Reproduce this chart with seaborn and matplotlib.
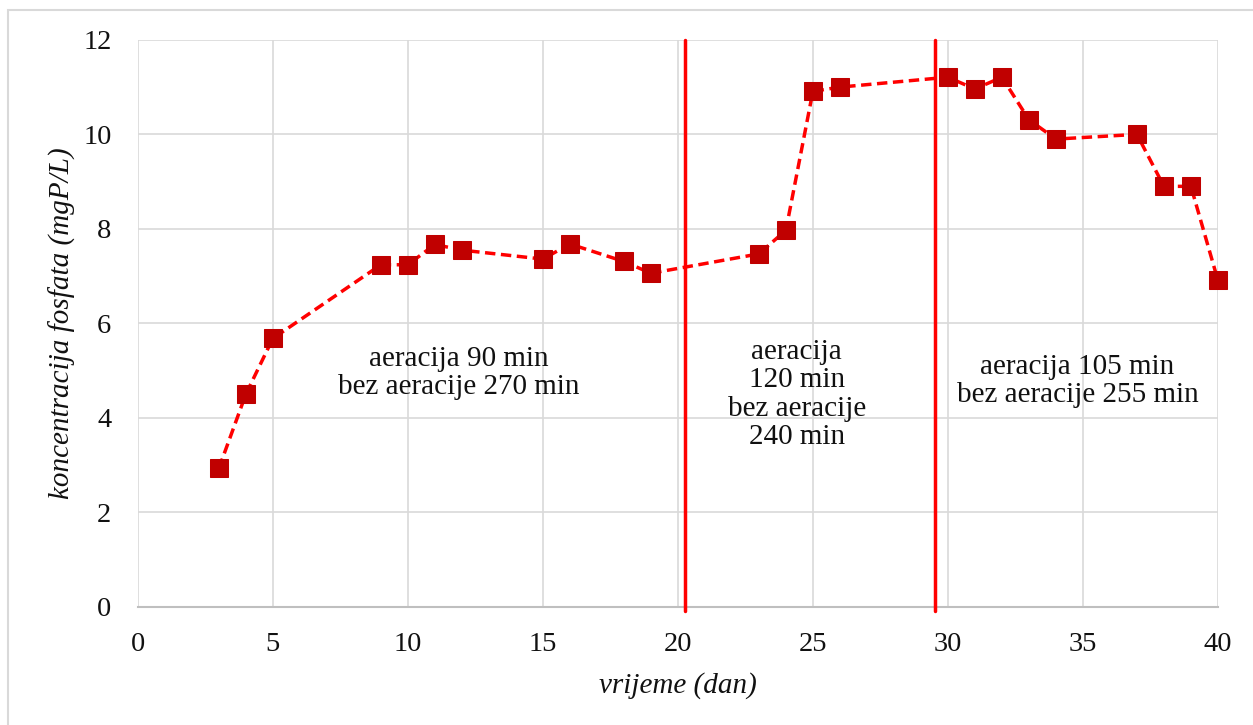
import numpy as np
import pandas as pd
import seaborn as sns
import matplotlib.pyplot as plt
from matplotlib.patches import Rectangle

# podaci očitani s grafa
dani = [3, 4, 5, 9, 10, 11, 12, 15, 16, 18, 19, 23, 24, 25, 26, 30, 31, 32, 33, 34, 37, 38, 39, 40]
fosfati = [2.93, 4.50, 5.68, 7.24, 7.24, 7.67, 7.55, 7.36, 7.68, 7.31, 7.06, 7.47, 7.97, 10.91, 11.00,
           11.21, 10.96, 11.21, 10.31, 9.90, 10.00, 8.90, 8.90, 6.91]
granice = [20.26, 29.52]
oznake = ["aeracija 90 min\nbez aeracije 270 min",
          "aeracija\n120 min\nbez aeracije\n240 min",
          "aeracija 105 min\nbez aeracije 255 min"]
oznake_x = [11.9, 24.4, 34.8]
oznake_y = [4.95, 4.49, 4.78]

df = pd.DataFrame({"dan": dani, "fosfat": fosfati})

sns.set_theme(style="white")
plt.rcParams['font.family'] = ['Liberation Serif', 'DejaVu Serif']

fig = plt.figure(figsize=(12.53, 7.25), dpi=100)
ax = fig.add_axes([0.110, 0.163, 0.862, 0.782])

# okvir oko slike
fig.patches.append(Rectangle((0.0065, -0.01), 1.0, 0.996, transform=fig.transFigure,
                             fill=False, edgecolor="#D9D9D9", linewidth=1.5))

sns.lineplot(data=df, x="dan", y="fosfat", ax=ax, color="#FF0000", linestyle=(0, (3, 1.6)),
             linewidth=2.5, marker="s", markersize=12.5, markerfacecolor="#C00000",
             markeredgecolor="#C00000", zorder=5, clip_on=False)

for g in granice:
    ax.axvline(g, ymin=-0.008, ymax=1.0, color="#FF0000", linewidth=2.5, zorder=6, clip_on=False)

for t, x, y in zip(oznake, oznake_x, oznake_y):
    ax.text(x, y, t, ha="center", va="center", fontsize=21, linespacing=1.12, zorder=7,
            color="#111111")

ax.set_xlim(0, 40)
ax.set_ylim(0, 12)
ax.set_xticks(np.arange(0, 41, 5))
ax.set_yticks(np.arange(0, 13, 2))
ax.grid(True, color="#D9D9D9", linewidth=1.2)
for s in ["top", "right", "left"]:
    ax.spines[s].set_visible(False)
ax.spines["bottom"].set_color("#BFBFBF")
ax.spines["bottom"].set_linewidth(1.5)
ax.tick_params(axis="both", length=0, labelsize=20.5, colors="#111111")
ax.tick_params(axis="y", pad=19)
ax.tick_params(axis="x", pad=18)

ax.set_xlabel("vrijeme (dan)", fontsize=21, style="italic", labelpad=11, color="#111111")
ax.set_ylabel("koncentracija fosfata (mgP/L)", fontsize=21, style="italic", labelpad=5,
              color="#111111")

fig.savefig("out.png", dpi=100)
